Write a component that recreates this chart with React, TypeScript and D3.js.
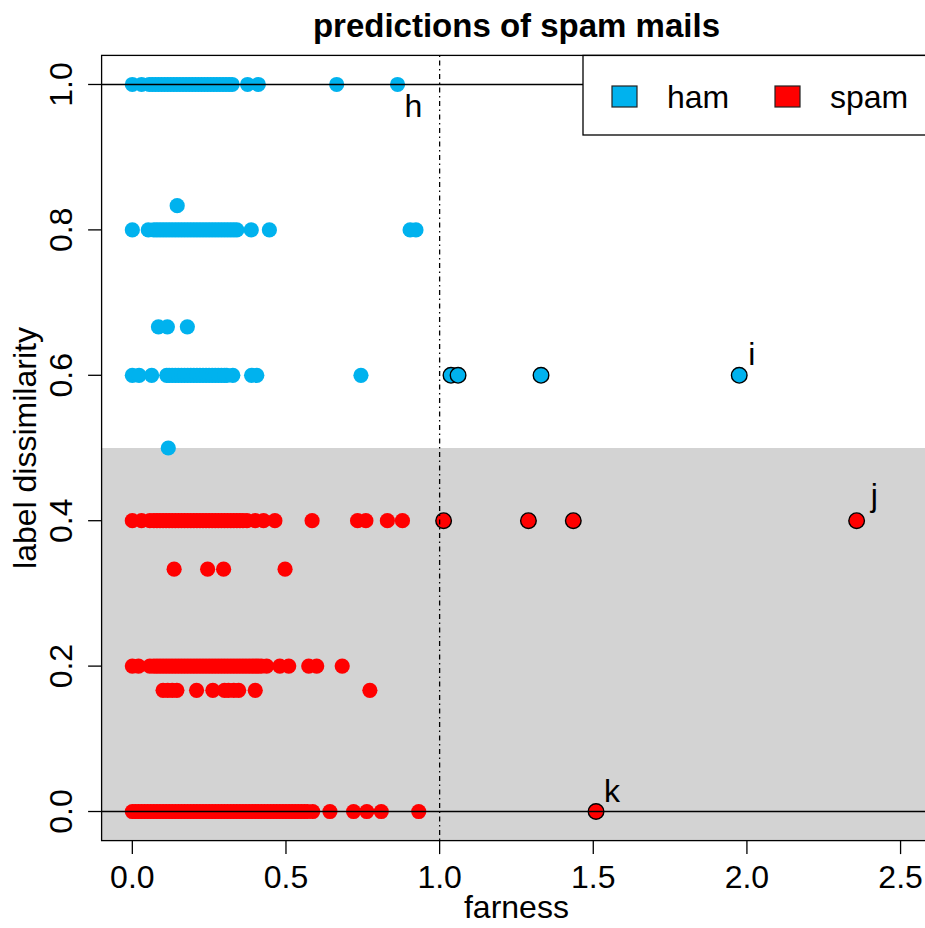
import React from "react";
import * as d3 from "d3";

// ---------- data (farness values per label-dissimilarity level) ----------
const hamAt100 = [0, 0.03, 0.055, 0.065, 0.075, 0.085, 0.095, 0.105, 0.115, 0.125, 0.135, 0.145, 0.155, 0.165, 0.175, 0.185, 0.195, 0.205, 0.215, 0.225, 0.235, 0.245, 0.255, 0.265, 0.275, 0.285, 0.295, 0.305, 0.315, 0.325, 0.375, 0.41, 0.665, 0.863];
const hamAt083 = [0.146];
const hamAt080 = [0, 0.052, 0.07, 0.08, 0.09, 0.1, 0.11, 0.12, 0.13, 0.14, 0.15, 0.16, 0.17, 0.18, 0.19, 0.2, 0.21, 0.22, 0.23, 0.24, 0.25, 0.26, 0.27, 0.28, 0.29, 0.3, 0.31, 0.32, 0.33, 0.34, 0.387, 0.446, 0.904, 0.923];
const hamAt067 = [0.085, 0.114, 0.179];
const hamAt060 = [0, 0.022, 0.063, 0.112, 0.12, 0.13, 0.14, 0.15, 0.16, 0.17, 0.18, 0.19, 0.2, 0.21, 0.22, 0.23, 0.24, 0.25, 0.26, 0.27, 0.28, 0.29, 0.3, 0.307, 0.327, 0.388, 0.405, 0.744];
const hamAt050 = [0.117];
const hamFlaggedX = [1.037, 1.06, 1.33, 1.975];
const hamFlaggedY = [0.6, 0.6, 0.6, 0.6];

const spamAt040 = [0, 0.03, 0.057, 0.07, 0.08, 0.09, 0.1, 0.11, 0.12, 0.13, 0.14, 0.15, 0.16, 0.17, 0.18, 0.19, 0.2, 0.21, 0.22, 0.23, 0.24, 0.25, 0.26, 0.27, 0.28, 0.29, 0.3, 0.31, 0.32, 0.33, 0.34, 0.35, 0.36, 0.373, 0.4, 0.427, 0.464, 0.585, 0.733, 0.76, 0.83, 0.879];
const spamAt033 = [0.136, 0.245, 0.297, 0.497];
const spamAt020 = [0, 0.02, 0.057, 0.07, 0.08, 0.09, 0.1, 0.11, 0.12, 0.13, 0.14, 0.15, 0.16, 0.17, 0.18, 0.19, 0.2, 0.21, 0.22, 0.23, 0.24, 0.25, 0.26, 0.27, 0.28, 0.29, 0.3, 0.31, 0.32, 0.33, 0.34, 0.35, 0.36, 0.37, 0.38, 0.39, 0.4, 0.41, 0.42, 0.437, 0.48, 0.509, 0.574, 0.6, 0.683];
const spamAt017 = [0.1, 0.115, 0.13, 0.145, 0.209, 0.262, 0.3, 0.313, 0.33, 0.346, 0.4, 0.773];
const spamAt000 = [0, 0.01, 0.02, 0.03, 0.04, 0.05, 0.06, 0.07, 0.08, 0.09, 0.1, 0.11, 0.12, 0.13, 0.14, 0.15, 0.16, 0.17, 0.18, 0.19, 0.2, 0.21, 0.22, 0.23, 0.24, 0.25, 0.26, 0.27, 0.28, 0.29, 0.3, 0.31, 0.32, 0.33, 0.34, 0.35, 0.36, 0.37, 0.38, 0.39, 0.4, 0.41, 0.42, 0.43, 0.44, 0.45, 0.46, 0.47, 0.48, 0.49, 0.5, 0.51, 0.52, 0.53, 0.54, 0.55, 0.56, 0.57, 0.587, 0.643, 0.72, 0.763, 0.81, 0.932];
const spamFlaggedX = [1.013, 1.289, 1.435, 2.357, 1.509];
const spamFlaggedY = [0.4, 0.4, 0.4, 0.4, 0];

const labelNames = ["h", "i", "j", "k"];
const labelX = [0.863, 1.975, 2.357, 1.509];
const labelY = [1.0, 0.6, 0.4, 0];

const xTicks = [0, 0.5, 1, 1.5, 2, 2.5];
const yTicks = [0, 0.2, 0.4, 0.6, 0.8, 1.0];
const legendNames = ["ham", "spam"];

// ---------- styles ----------
const BLUE = "#00B2EE";
const RED = "#FF0000";
const GRAY = "#D3D3D3";
const FONT = "'Liberation Sans', Arial, Helvetica, sans-serif";
const labelDx = [7, 9, 14, 8];
const labelDy = [33, -10, -15, -10];

export default function App() {
  const W = 925, H = 928;
  const x = d3.scaleLinear().domain([-0.1, 2.6]).range([101.6, 931.3]);
  const y = d3.scaleLinear().domain([-0.04, 1.04]).range([840.6, 55.4]);
  const x0 = x(-0.1), x1 = x(2.6), yTop = y(1.04), yBot = y(-0.04);

  const rowsHam: [number[], number][] = [
    [hamAt100, 1.0], [hamAt083, 5 / 6], [hamAt080, 0.8], [hamAt067, 2 / 3], [hamAt060, 0.6], [hamAt050, 0.5],
  ];
  const rowsSpam: [number[], number][] = [
    [spamAt040, 0.4], [spamAt033, 1 / 3], [spamAt020, 0.2], [spamAt017, 1 / 6], [spamAt000, 0],
  ];
  const pts = (rows: [number[], number][]) =>
    rows.flatMap(([xs, lv]) => xs.map((v) => ({ fx: v, fy: lv })));
  const hamPts = pts(rowsHam);
  const spamPts = pts(rowsSpam);

  return (
    <svg width={W} height={H} style={{ position: "absolute", left: 0, top: 0, background: "#fff" }} fontFamily={FONT}>
      <defs>
        <clipPath id="plotclip">
          <rect x={x0} y={yTop} width={x1 - x0} height={yBot - yTop} />
        </clipPath>
      </defs>
      {/* gray region (dissimilarity < 0.5) */}
      <rect x={x0} y={y(0.5)} width={x1 - x0} height={yBot - y(0.5)} fill={GRAY} />

      <g clipPath="url(#plotclip)">
        {hamPts.map((p, i) => (
          <circle key={"h" + i} cx={x(p.fx)} cy={y(p.fy)} r={7.6} fill={BLUE} />
        ))}
        {spamPts.map((p, i) => (
          <circle key={"s" + i} cx={x(p.fx)} cy={y(p.fy)} r={7.6} fill={RED} />
        ))}
        {hamFlaggedX.map((v, i) => (
          <circle key={"hf" + i} cx={x(v)} cy={y(hamFlaggedY[i])} r={7.8} fill={BLUE} stroke="#000" strokeWidth={1.4} />
        ))}
        {spamFlaggedX.map((v, i) => (
          <circle key={"sf" + i} cx={x(v)} cy={y(spamFlaggedY[i])} r={7.8} fill={RED} stroke="#000" strokeWidth={1.4} />
        ))}
        {/* reference lines */}
        <line x1={x0} x2={x1} y1={y(0)} y2={y(0)} stroke="#000" strokeWidth={1.3} />
        <line x1={x0} x2={x1} y1={y(1)} y2={y(1)} stroke="#000" strokeWidth={1.3} />
        <line x1={x(1)} x2={x(1)} y1={yTop} y2={yBot} stroke="#000" strokeWidth={1.3} strokeDasharray="1.5 3.5 5 3.5" />
        {labelNames.map((t, i) => (
          <text key={t} x={x(labelX[i]) + labelDx[i]} y={y(labelY[i]) + labelDy[i]} fontSize={32} fill="#000">{t}</text>
        ))}
      </g>

      {/* legend */}
      <rect x={583} y={yTop} width={x1 - 583} height={135 - yTop} fill="#fff" stroke="#000" strokeWidth={1.3} />
      {legendNames.map((t, i) => {
        const sx = i === 0 ? 612 : 775;
        return (
          <g key={t}>
            <rect x={sx} y={86} width={25} height={21} fill={i === 0 ? BLUE : RED} stroke="#222" strokeWidth={1.2} />
            <text x={sx + 55} y={108} fontSize={32} fill="#000">{t}</text>
          </g>
        );
      })}

      {/* box */}
      <rect x={x0} y={yTop} width={x1 - x0} height={yBot - yTop} fill="none" stroke="#000" strokeWidth={1.3} />

      {/* x axis */}
      {xTicks.map((t) => (
        <g key={"xt" + t}>
          <line x1={x(t)} x2={x(t)} y1={yBot} y2={yBot + 13.5} stroke="#000" strokeWidth={1.3} />
          <text x={x(t)} y={888} fontSize={32} textAnchor="middle">{d3.format(".1f")(t)}</text>
        </g>
      ))}
      {/* y axis */}
      {yTicks.map((t) => (
        <g key={"yt" + t}>
          <line x1={x0 - 13.5} x2={x0} y1={y(t)} y2={y(t)} stroke="#000" strokeWidth={1.3} />
          <text transform={`translate(72,${y(t)}) rotate(-90)`} fontSize={32} textAnchor="middle">{d3.format(".1f")(t)}</text>
        </g>
      ))}

      <text x={(x0 + x1) / 2} y={918} fontSize={32} textAnchor="middle">farness</text>
      <text transform={`translate(36,${(yTop + yBot) / 2}) rotate(-90)`} fontSize={32} textAnchor="middle">label dissimilarity</text>
      <text x={(x0 + x1) / 2} y={37} fontSize={33} fontWeight="bold" textAnchor="middle">predictions of spam mails</text>
    </svg>
  );
}
